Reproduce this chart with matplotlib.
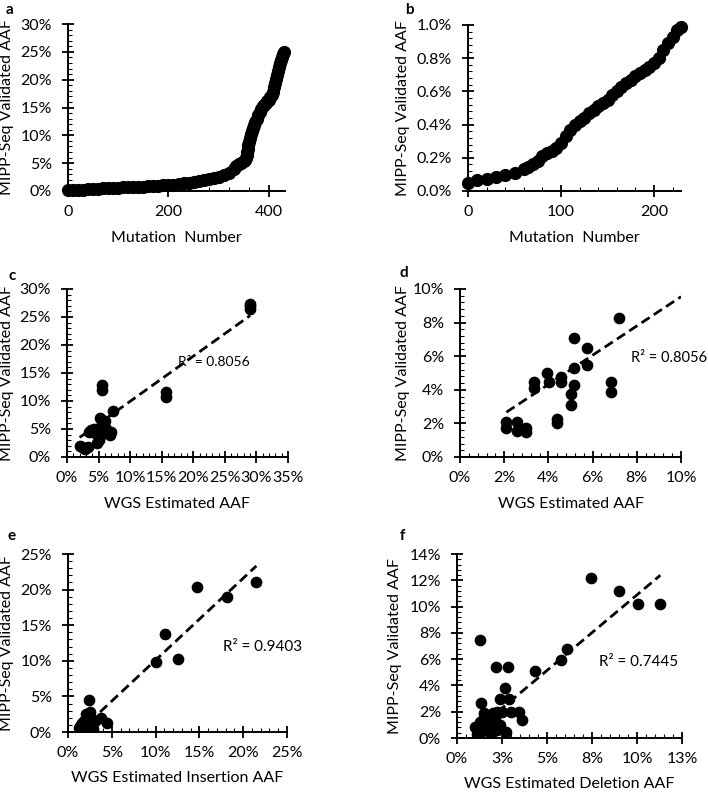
import matplotlib
matplotlib.use('Agg')
import matplotlib.pyplot as plt
from matplotlib.ticker import MultipleLocator, FuncFormatter, FixedLocator, FixedFormatter
import numpy as np

plt.rcParams['font.family'] = ['Lato', 'DejaVu Sans']

# panel a: sorted AAF (%) by mutation number
a_num = [0, 10, 20, 30, 40, 50, 60, 70, 80, 90, 100, 110, 120, 130, 140, 150, 160, 170, 180, 190,
         200, 210, 220, 230, 240, 250, 260, 270, 280, 290, 300, 310, 320, 330, 335, 340, 345, 350,
         353, 355, 356, 357, 358, 359, 360, 362, 364, 366, 368, 370, 373, 376, 379, 382, 385, 388,
         391, 394, 397, 400, 403, 406, 408, 410, 412, 414, 416, 418, 420, 422, 424, 426, 428, 430]
a_aaf = [0.1, 0.15, 0.2, 0.25, 0.3, 0.35, 0.4, 0.45, 0.5, 0.55, 0.6, 0.65, 0.7, 0.72, 0.75, 0.8, 0.85, 0.9, 0.95, 1.0,
         1.05, 1.15, 1.25, 1.35, 1.5, 1.6, 1.75, 1.9, 2.1, 2.3, 2.5, 2.8, 3.3, 4.0, 4.5, 4.8, 5.0, 5.3,
         5.6, 6.0, 6.5, 7.0, 7.5, 8.2, 8.8, 9.6, 10.2, 10.8, 11.3, 11.8, 12.4, 13.0, 13.6, 14.2, 14.8, 15.2,
         15.5, 15.8, 16.1, 16.4, 16.8, 17.2, 17.8, 18.6, 19.4, 20.2, 20.9, 21.6, 22.3, 23.0, 23.6, 24.1, 24.6, 25.0]

# panel b: sorted AAF (%) by mutation number
b_num = [0, 10, 20, 30, 40, 50, 60, 65, 70, 75, 80, 85, 90, 95, 100, 105, 110, 115, 120, 125, 130,
         135, 140, 145, 150, 155, 160, 165, 170, 175, 180, 185, 190, 195, 200, 205, 210, 215, 220, 225, 229]
b_aaf = [0.05, 0.065, 0.075, 0.085, 0.095, 0.11, 0.13, 0.145, 0.16, 0.18, 0.21, 0.23, 0.24, 0.26, 0.29,
         0.33, 0.37, 0.40, 0.42, 0.44, 0.47, 0.49, 0.51, 0.53, 0.55, 0.58, 0.60, 0.625, 0.65, 0.67, 0.69,
         0.71, 0.73, 0.75, 0.77, 0.80, 0.85, 0.89, 0.93, 0.97, 0.99]

# panel c
c_wgs = [2.0, 2.3, 2.8, 3.3, 3.5, 3.8, 4.2, 4.5, 4.8, 5.0, 5.2, 5.3, 5.5, 5.6, 5.8, 6.0, 6.2, 6.8, 7.0, 7.3,
         15.6, 15.6, 29.0, 29.0, 29.0]
c_mipp = [2.0, 1.7, 1.5, 1.8, 4.5, 4.8, 5.0, 4.2, 2.5, 3.0, 3.8, 7.0, 12.0, 12.8, 5.5, 6.5, 5.0, 4.0, 4.5, 8.2,
          10.7, 11.6, 26.5, 27.0, 27.3]
c_fit = (0.806, 1.88)
c_r2 = 'R² = 0.8056'

# panel d
d_wgs = [7.2, 5.16, 5.75, 5.75, 5.16, 3.94, 3.35, 3.35, 4.03, 4.57, 4.57, 5.16, 6.83, 6.83, 5.0, 5.0,
         2.1, 2.1, 2.6, 2.6, 3.0, 3.0, 4.4, 4.4]
d_mipp = [8.25, 7.1, 6.5, 5.5, 5.3, 5.0, 4.45, 4.1, 4.45, 4.75, 4.45, 4.27, 4.45, 3.86, 3.74, 3.1,
          2.1, 1.7, 2.1, 1.55, 1.7, 1.5, 2.25, 2.0]
d_fit = (0.87, 0.84)
d_fit_x = (2.1, 10.0)
d_r2 = 'R² = 0.8056'

# panel e
e_wgs = [21.5, 14.7, 18.1, 11.1, 12.6, 10.1, 2.4, 1.2, 1.4, 1.5, 1.6, 1.8, 1.9, 2.0, 2.1, 2.2, 2.3,
         2.4, 2.5, 2.6, 2.7, 2.9, 3.1, 3.8, 4.5]
e_mipp = [21.1, 20.4, 19.0, 13.8, 10.2, 9.8, 4.5, 0.5, 0.8, 0.3, 1.2, 1.5, 0.6, 2.0, 2.5, 1.0, 0.4,
          1.8, 2.8, 1.3, 0.7, 0.4, 1.6, 1.9, 1.3]
e_fit = (1.15, -1.4)
e_r2 = 'R² = 0.9403'

# panel f
f_wgs = [1.3, 2.17, 2.83, 4.33, 5.8, 6.1, 7.44, 9.0, 10.05, 11.3, 2.65, 2.4, 2.9, 1.33, 3.0, 3.45, 3.6,
         2.7, 2.2, 2.5, 2.0, 1.0, 1.1, 1.2, 1.3, 1.4, 1.5, 1.6, 1.7, 1.8, 1.9, 2.0, 2.1, 2.2, 2.4, 1.5, 1.8]
f_mipp = [7.45, 5.4, 5.4, 5.1, 5.9, 6.8, 12.15, 11.2, 10.2, 10.2, 3.8, 3.0, 3.0, 2.65, 1.95, 1.95, 1.4,
          0.45, 2.0, 2.0, 1.9, 0.8, 0.3, 0.0, 1.2, 0.5, 1.6, 1.0, 0.6, 1.3, 0.3, 0.9, 1.5, 0.6, 1.0, 1.9, 1.7]
f_fit = (1.15, -0.61)
f_r2 = 'R² = 0.7445'
f_xticks = [0, 2.5, 5, 7.5, 10, 12.5]
f_xticklabels = ['0%', '3%', '5%', '8%', '10%', '13%']

W, H = 708, 792
fig = plt.figure(figsize=(W / 100, H / 100), dpi=100)

ylab = 'MIPP-Seq Validated AAF'
FS = 11.5


def make_ax(left, right, top, bottom):
    ax = fig.add_axes([left / W, 1 - bottom / H, (right - left) / W, (bottom - top) / H])
    ax.spines['top'].set_visible(False)
    ax.spines['right'].set_visible(False)
    for s in ['left', 'bottom']:
        ax.spines[s].set_linewidth(1.4)
    ax.tick_params(which='major', direction='inout', length=8, width=1.3, labelsize=FS)
    ax.tick_params(axis='x', which='major', pad=6)
    ax.tick_params(axis='y', which='major', pad=7.5)
    ax.tick_params(which='minor', direction='in', length=3, width=0.8)
    ax.set_ylabel(ylab, fontsize=FS)
    return ax


def pct(dec=0):
    return FuncFormatter(lambda v, p: ('%.' + str(dec) + 'f%%') % v)


def trend(ax, x0, x1, fit):
    xs = np.array([x0, x1])
    ax.plot(xs, fit[0] * xs + fit[1], ls=(0, (3.5, 1.8)), color='black', lw=2, zorder=3)


# a
ax = make_ax(68, 285, 24, 191)
ax.plot(a_num, a_aaf, 'o', color='black', ms=8.5, clip_on=False)
ax.set_xlim(0, 432)
ax.set_ylim(0, 30)
ax.xaxis.set_major_locator(MultipleLocator(200))
ax.xaxis.set_minor_locator(MultipleLocator(40))
ax.yaxis.set_major_locator(MultipleLocator(5))
ax.yaxis.set_minor_locator(MultipleLocator(1))
ax.yaxis.set_major_formatter(pct(0))
ax.set_xlabel('Mutation  Number', fontsize=FS, labelpad=9)
ax.yaxis.set_label_coords(-0.249, 0.5)

# b
ax = make_ax(468, 681, 25, 191)
ax.plot(b_num, b_aaf, 'o', color='black', ms=8.5, clip_on=False)
ax.set_xlim(0, 229)
ax.set_ylim(0, 1.0)
ax.xaxis.set_major_locator(MultipleLocator(100))
ax.xaxis.set_minor_locator(MultipleLocator(20))
ax.yaxis.set_major_locator(MultipleLocator(0.2))
ax.yaxis.set_minor_locator(MultipleLocator(0.04))
ax.yaxis.set_major_formatter(pct(1))
ax.set_xlabel('Mutation  Number', fontsize=FS, labelpad=9)
ax.yaxis.set_label_coords(-0.272, 0.5)

# c
ax = make_ax(67, 288, 289, 457)
ax.scatter(c_wgs, c_mipp, s=55, color='black', zorder=4)
trend(ax, min(c_wgs), max(c_wgs), c_fit)
ax.text(17.6, 17, c_r2, fontsize=FS - 1.5, va='center')
ax.set_xlim(0, 35)
ax.set_ylim(0, 30)
ax.xaxis.set_major_locator(MultipleLocator(5))
ax.xaxis.set_minor_locator(MultipleLocator(1))
ax.yaxis.set_major_locator(MultipleLocator(5))
ax.yaxis.set_minor_locator(MultipleLocator(1))
ax.xaxis.set_major_formatter(pct(0))
ax.yaxis.set_major_formatter(pct(0))
ax.set_xlabel('WGS Estimated AAF', fontsize=FS, labelpad=9)
ax.yaxis.set_label_coords(-0.24, 0.5)

# d
ax = make_ax(460, 681, 289, 457)
ax.scatter(d_wgs, d_mipp, s=55, color='black', zorder=4)
trend(ax, d_fit_x[0], d_fit_x[1], d_fit)
ax.text(7.74, 5.9, d_r2, fontsize=FS - 1, va='center', clip_on=False)
ax.set_xlim(0, 10)
ax.set_ylim(0, 10)
ax.xaxis.set_major_locator(MultipleLocator(2))
ax.xaxis.set_minor_locator(MultipleLocator(0.4))
ax.yaxis.set_major_locator(MultipleLocator(2))
ax.yaxis.set_minor_locator(MultipleLocator(0.4))
ax.xaxis.set_major_formatter(pct(0))
ax.yaxis.set_major_formatter(pct(0))
ax.set_xlabel('WGS Estimated AAF', fontsize=FS, labelpad=9)
ax.yaxis.set_label_coords(-0.226, 0.5)

# e
ax = make_ax(68, 287, 554, 732)
ax.scatter(e_wgs, e_mipp, s=55, color='black', zorder=4)
trend(ax, min(e_wgs), max(e_wgs), e_fit)
ax.text(17.7, 12.0, e_r2, fontsize=FS - 0.5, va='center', clip_on=False)
ax.set_xlim(0, 25)
ax.set_ylim(0, 25)
ax.xaxis.set_major_locator(MultipleLocator(5))
ax.xaxis.set_minor_locator(MultipleLocator(1))
ax.yaxis.set_major_locator(MultipleLocator(5))
ax.yaxis.set_minor_locator(MultipleLocator(1))
ax.xaxis.set_major_formatter(pct(0))
ax.yaxis.set_major_formatter(pct(0))
ax.set_xlabel('WGS Estimated Insertion AAF', fontsize=FS, labelpad=8)
ax.yaxis.set_label_coords(-0.247, 0.5)

# f
ax = make_ax(457, 682, 554, 738)
ax.scatter(f_wgs, f_mipp, s=55, color='black', zorder=4)
trend(ax, min(f_wgs), max(f_wgs), f_fit)
ax.text(7.9, 5.8, f_r2, fontsize=FS - 0.5, va='center', clip_on=False)
ax.set_xlim(0, 12.5)
ax.set_ylim(0, 14)
ax.xaxis.set_major_locator(FixedLocator(f_xticks))
ax.xaxis.set_major_formatter(FixedFormatter(f_xticklabels))
ax.xaxis.set_minor_locator(MultipleLocator(0.5))
ax.yaxis.set_major_locator(MultipleLocator(2))
ax.yaxis.set_minor_locator(MultipleLocator(0.4))
ax.yaxis.set_major_formatter(pct(0))
ax.set_xlabel('WGS Estimated Deletion AAF', fontsize=FS, labelpad=8)
ax.yaxis.set_label_coords(-0.244, 0.5)

# panel letters
for lab, x, y in [('a', 10, 10), ('b', 409, 10), ('c', 12, 276), ('d', 404, 273), ('e', 12, 536), ('f', 402, 536)]:
    fig.text(x / W, 1 - y / H, lab, fontsize=11, fontweight='bold', ha='center', va='center')

fig.savefig('out.png', dpi=100)
